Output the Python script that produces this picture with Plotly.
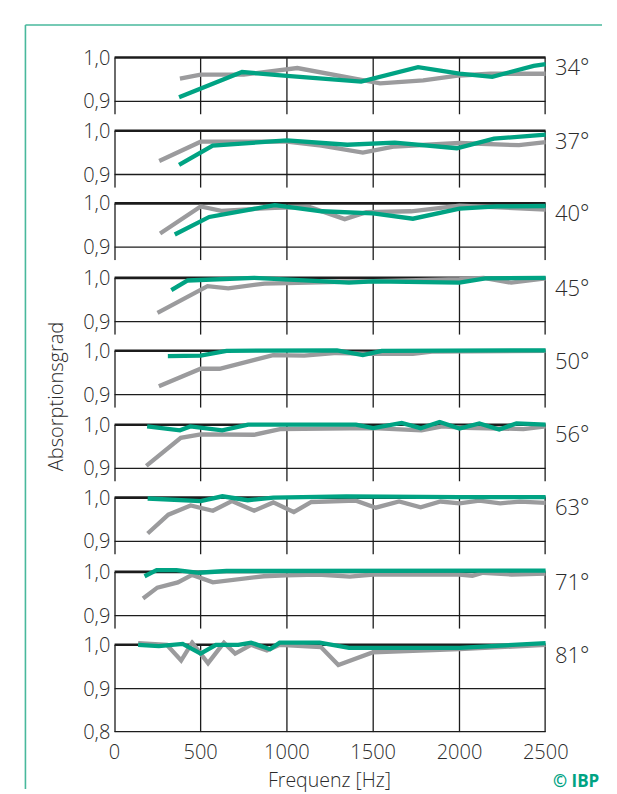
import plotly.graph_objects as go

# ---------------- data ----------------
angles = ["34°", "37°", "40°", "45°", "50°", "56°", "63°", "71°", "81°"]
x_ticks = [0, 500, 1000, 1500, 2000, 2500]
grid_x = [500, 1000, 1500, 2000]
y_ticks = [0.9, 1.0]
y_ticks_last = [0.8, 0.9, 1.0]

f34_gray = [380, 500, 750, 1060, 1540, 1790, 2000, 2180, 2500]
a34_gray = [0.952, 0.961, 0.961, 0.976, 0.941, 0.948, 0.959, 0.963, 0.963]
f34_green = [375, 740, 1000, 1430, 1760, 2000, 2190, 2430, 2500]
a34_green = [0.909, 0.967, 0.958, 0.945, 0.978, 0.963, 0.956, 0.981, 0.985]

f37_gray = [260, 500, 1000, 1200, 1440, 1625, 2000, 2345, 2500]
a37_gray = [0.931, 0.975, 0.975, 0.966, 0.950, 0.964, 0.972, 0.967, 0.974]
f37_green = [375, 570, 1000, 1350, 1625, 1985, 2200, 2500]
a37_green = [0.922, 0.966, 0.978, 0.968, 0.973, 0.960, 0.982, 0.991]

f40_gray = [265, 500, 620, 930, 1130, 1335, 1460, 1720, 2000, 2500]
a40_gray = [0.931, 0.993, 0.983, 0.990, 0.992, 0.964, 0.980, 0.982, 0.995, 0.986]
f40_green = [350, 550, 930, 1200, 1500, 1730, 2000, 2220, 2500]
a40_green = [0.929, 0.969, 0.996, 0.982, 0.977, 0.965, 0.988, 0.993, 0.994]

f45_gray = [250, 540, 660, 870, 1000, 1500, 2000, 2140, 2300, 2500]
a45_gray = [0.920, 0.981, 0.976, 0.987, 0.988, 0.992, 0.997, 1.000, 0.989, 0.999]
f45_green = [330, 425, 810, 1360, 1500, 2000, 2150, 2500]
a45_green = [0.972, 0.994, 1.000, 0.989, 0.992, 0.989, 0.999, 1.000]

f50_gray = [258, 500, 610, 920, 1100, 1290, 1500, 1730, 1840, 2500]
a50_gray = [0.919, 0.959, 0.959, 0.990, 0.989, 0.995, 0.993, 0.993, 0.998, 1.000]
f50_green = [310, 500, 650, 1290, 1440, 1550, 2500]
a50_green = [0.988, 0.989, 1.000, 1.001, 0.990, 1.000, 1.001]

f56_gray = [185, 385, 500, 810, 960, 1500, 1780, 1900, 2030, 2370, 2500]
a56_gray = [0.906, 0.970, 0.978, 0.977, 0.990, 0.992, 0.987, 0.996, 0.993, 0.990, 0.996]
f56_green = [190, 380, 440, 625, 775, 1400, 1500, 1665, 1775, 1885, 2000, 2115, 2230, 2330, 2500]
a56_green = [0.996, 0.987, 0.996, 0.987, 1.000, 1.000, 0.992, 1.004, 0.992, 1.006, 0.991, 1.003, 0.989, 1.003, 1.000]

f63_gray = [193, 313, 442, 571, 681, 810, 921, 1040, 1142, 1400, 1515, 1650, 1775, 1890, 2000, 2115, 2236, 2350, 2500]
a63_gray = [0.918, 0.961, 0.982, 0.970, 0.992, 0.970, 0.989, 0.967, 0.990, 0.993, 0.977, 0.991, 0.978, 0.991, 0.987, 0.993, 0.987, 0.991, 0.988]
f63_green = [193, 500, 626, 773, 921, 1344, 2000, 2500]
a63_green = [0.998, 0.992, 1.003, 0.994, 1.000, 1.003, 1.001, 1.001]

f71_gray = [166, 249, 368, 451, 571, 866, 994, 1179, 1365, 1500, 2000, 2075, 2136, 2302, 2500]
a71_gray = [0.939, 0.964, 0.976, 0.993, 0.976, 0.990, 0.992, 0.994, 0.989, 0.994, 0.994, 0.991, 0.998, 0.994, 0.996]
f71_green = [175, 245, 360, 490, 650, 1500, 2500]
a71_green = [0.990, 1.004, 1.004, 0.998, 1.002, 1.003, 1.003]

f81_gray = [138, 304, 387, 451, 543, 635, 700, 792, 884, 958, 1197, 1298, 1500, 2000, 2500]
a81_gray = [1.004, 1.000, 0.964, 1.005, 0.958, 1.005, 0.980, 1.000, 0.987, 1.000, 0.995, 0.954, 0.983, 0.990, 1.000]
f81_green = [138, 258, 396, 500, 589, 718, 792, 902, 958, 1190, 1360, 2000, 2500]
a81_green = [1.000, 0.997, 1.002, 0.980, 1.000, 1.000, 1.005, 0.990, 1.005, 1.005, 0.993, 0.993, 1.004]

panels = [
    (f34_gray, a34_gray, f34_green, a34_green),
    (f37_gray, a37_gray, f37_green, a37_green),
    (f40_gray, a40_gray, f40_green, a40_green),
    (f45_gray, a45_gray, f45_green, a45_green),
    (f50_gray, a50_gray, f50_green, a50_green),
    (f56_gray, a56_gray, f56_green, a56_green),
    (f63_gray, a63_gray, f63_green, a63_green),
    (f71_gray, a71_gray, f71_green, a71_green),
    (f81_gray, a81_gray, f81_green, a81_green),
]

# ---------------- styling / geometry ----------------
W, H = 617, 794
X0, X1 = 105.3, 558.0
TOPS = [41.7, 117.0, 191.7, 268.3, 343.3, 419.3, 494.3, 570.7, 645.7]
SCALE = 450.0
Y_OVER = 0.012
GREEN = "#00a383"
GRAY = "#9b9b9d"
FRAME = "#48b89c"
INK = "#1c1c1c"
TXT = "#2b2b2b"
FONT = "Open Sans"
FW = 300
TICK_SIZE = 20
TITLE_SIZE = 19.5
ANGLE_SIZE = 22

fig = go.Figure()
layout = dict(
    width=W, height=H,
    margin=dict(l=0, r=0, t=0, b=0),
    paper_bgcolor="white", plot_bgcolor="rgba(0,0,0,0)",
    showlegend=False,
    font=dict(family=FONT, color=TXT, size=TICK_SIZE, weight=FW),
)
shapes = []
annotations = []

n = len(panels)
for k, (fg, ag, fn, an) in enumerate(panels):
    idx = "" if k == 0 else str(k + 1)
    last = (k == n - 1)
    ylo = y_ticks_last[0] if last else 0.87
    T = TOPS[k]
    dom_top = 1 - (T - Y_OVER * SCALE) / H
    dom_bot = 1 - (T + (1 - ylo) * SCALE) / H
    yt = y_ticks_last if last else y_ticks
    layout["xaxis" + idx] = dict(
        domain=[X0 / W, X1 / W], range=[0, 2500],
        showgrid=False, zeroline=False, showline=False,
        anchor="y" + idx,
        tickvals=x_ticks if last else [],
        ticktext=[str(v) for v in x_ticks] if last else [],
        showticklabels=last,
        ticks="outside" if last else "", ticklen=2, tickcolor="rgba(0,0,0,0)",
        tickfont=dict(size=TICK_SIZE, color=TXT, family=FONT, weight=FW),
    )
    layout["yaxis" + idx] = dict(
        domain=[dom_bot, dom_top], range=[ylo, 1 + Y_OVER],
        showgrid=False, zeroline=False, showline=False,
        anchor="x" + idx,
        tickvals=yt, ticktext=[f"{v:.1f}".replace(".", ",") for v in yt],
        ticks="", ticklabelstandoff=3,
        tickfont=dict(size=TICK_SIZE, color=TXT, family=FONT, weight=FW),
    )
    xr, yr = "x" + idx, "y" + idx
    for gx in grid_x:
        shapes.append(dict(type="line", xref=xr, yref=yr, x0=gx, x1=gx, y0=ylo, y1=1.0,
                           line=dict(color=INK, width=1.3), layer="below"))
    for gy in yt[:-1]:
        w = 2.6 if gy == ylo and last else 1.3
        shapes.append(dict(type="line", xref=xr, yref=yr, x0=0, x1=2500, y0=gy, y1=gy,
                           line=dict(color=INK, width=w), layer="below"))
    shapes.append(dict(type="line", xref=xr, yref=yr, x0=0, x1=2500, y0=1.0, y1=1.0,
                       line=dict(color=INK, width=2.6), layer="below"))
    for vx in (0, 2500):
        shapes.append(dict(type="line", xref=xr, yref=yr, x0=vx, x1=vx, y0=ylo, y1=1.0,
                           line=dict(color=INK, width=2.6), layer="below"))

    fig.add_trace(go.Scatter(x=fg, y=ag, mode="lines", xaxis=xr, yaxis=yr,
                             line=dict(color=GRAY, width=4.3)))
    fig.add_trace(go.Scatter(x=fn, y=an, mode="lines", xaxis=xr, yaxis=yr,
                             line=dict(color=GREEN, width=4.3)))

    annotations.append(dict(text=angles[k], xref="paper", yref="paper",
                            x=566 / W, y=1 - (T + 9) / H, xanchor="left", yanchor="middle",
                            showarrow=False, font=dict(size=ANGLE_SIZE, color=TXT, family=FONT, weight=FW)))

# axis titles
annotations.append(dict(text="Absorptionsgrad", xref="paper", yref="paper",
                        x=43 / W, y=1 - 390 / H, textangle=-90, xanchor="center", yanchor="middle",
                        showarrow=False, font=dict(size=20, color=TXT, family=FONT, weight=FW)))
annotations.append(dict(text="Frequenz [Hz]", xref="paper", yref="paper",
                        x=331.5 / W, y=1 - 784 / H, xanchor="center", yanchor="middle",
                        showarrow=False, font=dict(size=TITLE_SIZE, color=TXT, family=FONT, weight=FW)))
annotations.append(dict(text="<b>© IBP</b>", xref="paper", yref="paper",
                        x=616 / W, y=1 - 785 / H, xanchor="right", yanchor="middle",
                        showarrow=False, font=dict(size=17, color=GREEN, family=FONT)))

# outer frame (top and left)
shapes.append(dict(type="line", xref="paper", yref="paper", x0=12 / W, x1=1, y0=1 - 8.3 / H, y1=1 - 8.3 / H,
                   line=dict(color=FRAME, width=1.6)))
shapes.append(dict(type="line", xref="paper", yref="paper", x0=12 / W, x1=12 / W, y0=0, y1=1 - 8.3 / H,
                   line=dict(color=FRAME, width=1.6)))

layout["shapes"] = shapes
layout["annotations"] = annotations
fig.update_layout(**layout)
fig.write_html("out.html")
